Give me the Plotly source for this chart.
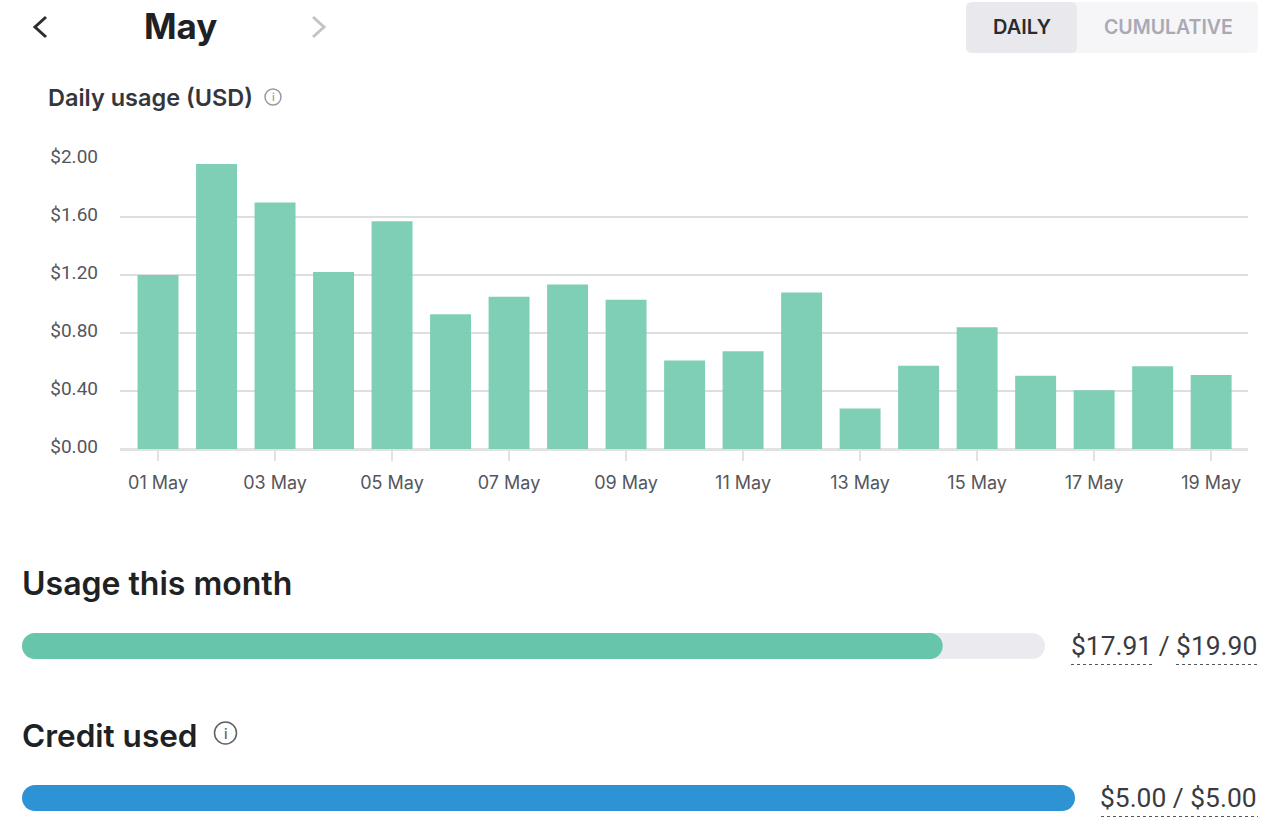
import plotly.graph_objects as go

# --- data ---
days = ["01 May", "02 May", "03 May", "04 May", "05 May", "06 May", "07 May", "08 May", "09 May", "10 May",
        "11 May", "12 May", "13 May", "14 May", "15 May", "16 May", "17 May", "18 May", "19 May"]
daily_usage = [1.20, 1.965, 1.70, 1.22, 1.57, 0.93, 1.05, 1.135, 1.03, 0.61,
               0.675, 1.08, 0.28, 0.575, 0.84, 0.505, 0.405, 0.57, 0.51]
day_ticks = days[::2]
usd_ticks = [0, 0.4, 0.8, 1.2, 1.6, 2.0]
usd_labels = ["$0.00", "$0.40", "$0.80", "$1.20", "$1.60", "$2.00"]

usage_used = 17.91
usage_limit = 19.90
credit_used = 5.00
credit_limit = 5.00

W, H = 1280, 838
FONT = "Inter"
NUM_FONT = "Roboto"
INK = "#202123"
GRID = "#dddee1"


def domain_x(a, b):
    return [a / W, b / W]


def domain_y(top, bottom):
    return [1 - bottom / H, 1 - top / H]


fig = go.Figure()

# daily bars
fig.add_trace(go.Bar(x=days, y=daily_usage, width=0.7, xaxis="x", yaxis="y",
                     marker=dict(color="#7bcdb4", line_width=0, opacity=0.97)))


# an explicit base makes plotly round both ends of the bar
def add_pill(value, name, color, xa, ya):
    fig.add_trace(go.Bar(x=[value], base=[0], y=[name], orientation="h", width=1, xaxis=xa, yaxis=ya,
                         marker=dict(color=color, line_width=0, cornerradius=13)))


add_pill(usage_limit, "usage", "#ebebef", "x2", "y2")
add_pill(usage_used, "usage", "#66c5ab", "x2", "y2")
add_pill(credit_used, "credit", "#2e93d5", "x3", "y3")

# empty trace to keep a full page pixel axis alive, text and shapes sit on it
fig.add_trace(go.Scatter(x=[None], y=[None], xaxis="x4", yaxis="y4", hoverinfo="skip"))

hidden = dict(visible=False, fixedrange=True, automargin=False)

fig.update_layout(
    width=W, height=H, margin=dict(l=0, r=0, t=0, b=0, pad=0),
    paper_bgcolor="white", plot_bgcolor="rgba(0,0,0,0)",
    showlegend=False, barmode="overlay",
    font=dict(family=FONT, color=INK),
    xaxis=dict(domain=domain_x(120, 1248), type="category", categoryorder="array", categoryarray=days,
               range=[-0.65, 18.63], tickmode="array", tickvals=day_ticks, ticktext=day_ticks,
               ticks="outside", ticklen=11, tickwidth=1.5, tickcolor="#e2e2e4", ticklabelstandoff=6,
               tickfont=dict(size=18, color="#55565c"), showgrid=False, zeroline=False,
               showline=False, fixedrange=True, automargin=False),
    yaxis=dict(domain=domain_y(159, 449), range=[0, 2], tickmode="array", tickvals=usd_ticks,
               ticktext=usd_labels, ticks="", ticklabelstandoff=21, ticklabelshift=-3,
               tickfont=dict(family=NUM_FONT, size=19, color="#55565c"), showgrid=True, gridcolor=GRID, gridwidth=1.5,
               zeroline=True, zerolinecolor="#e2e2e4", zerolinewidth=3, fixedrange=True, automargin=False),
    xaxis2=dict(domain=domain_x(22, 1045), range=[0, usage_limit], anchor="y2", **hidden),
    yaxis2=dict(domain=domain_y(633, 659), range=[-0.5, 0.5], anchor="x2", type="category", **hidden),
    xaxis3=dict(domain=domain_x(22, 1075), range=[0, credit_limit], anchor="y3", **hidden),
    yaxis3=dict(domain=domain_y(785, 811), range=[-0.5, 0.5], anchor="x3", type="category", **hidden),
    xaxis4=dict(domain=[0, 1], range=[0, W], anchor="y4", **hidden),
    yaxis4=dict(domain=[0, 1], range=[H, 0], anchor="x4", **hidden),
)


def text(s, x, y, size, color=INK, weight=400, anchor="left", family=FONT):
    fig.add_annotation(text=s, x=x, y=y, xref="x4", yref="y4", xanchor=anchor, yanchor="middle",
                       showarrow=False, borderpad=0, font=dict(family=family, size=size, color=color, weight=weight))


def chevron(points, color, width=3):
    path = "M" + " L".join(f"{a},{b}" for a, b in points)
    fig.add_shape(type="path", path=path, xref="x4", yref="y4", layer="above",
                  line=dict(color=color, width=width), fillcolor="rgba(0,0,0,0)")


def info_icon(cx, cy, r, color, size):
    fig.add_shape(type="circle", xref="x4", yref="y4", x0=cx - r, x1=cx + r, y0=cy - r, y1=cy + r,
                  line=dict(color=color, width=1.5))
    text("i", cx, cy, size, color, 500, "center")


def dotted(x0, x1, y):
    fig.add_shape(type="line", xref="x4", yref="y4", x0=x0, x1=x1, y0=y, y1=y,
                  line=dict(color="#55565c", width=1, dash="dot"))


def toggle(x0, x1, y0, y1, color):
    r = 6
    path = (f"M{x0 + r},{y0} L{x1 - r},{y0} Q{x1},{y0} {x1},{y0 + r} L{x1},{y1 - r} Q{x1},{y1} {x1 - r},{y1} "
            f"L{x0 + r},{y1} Q{x0},{y1} {x0},{y1 - r} L{x0},{y0 + r} Q{x0},{y0} {x0 + r},{y0} Z")
    fig.add_shape(type="path", path=path, xref="x4", yref="y4", fillcolor=color, line_width=0, layer="below")


# --- header ---
chevron([(46, 17), (35, 27), (46, 37)], "#2c2d30")
chevron([(313, 17), (324, 27), (313, 37)], "#c4c4c6")
text("May", 180, 26, 35, "#202123", 700, "center")

toggle(1070, 1258, 2, 53, "#f6f6f8")
toggle(966, 1077, 2, 53, "#e9e9ed")
text("DAILY", 1021.5, 27, 20, "#2a2b30", 600, "center")
text("CUMULATIVE", 1168, 27, 19.5, "#a9a9b6", 600, "center")

text("Daily usage (USD)", 47, 97, 23.5, "#35363b", 600)
info_icon(273, 97, 8, "#9a9a9e", 11)

# --- lower part ---
text("Usage this month", 21, 583, 32, "#202123", 600)
text("$17.91 / $19.90", 1258, 646, 26.4, "#3a3b40", 400, "right", NUM_FONT)
dotted(1071, 1153, 664.5)
dotted(1176, 1258, 664.5)

text("Credit used", 21, 735, 31.5, "#202123", 600)
info_icon(225.5, 733, 11, "#5f5f68", 14)
text("$5.00 / $5.00", 1258, 798, 26.4, "#3a3b40", 400, "right", NUM_FONT)
dotted(1101, 1258, 816.5)

fig.write_html("out.html", config={"displayModeBar": False},
               post_script="document.body.style.margin='0';")
